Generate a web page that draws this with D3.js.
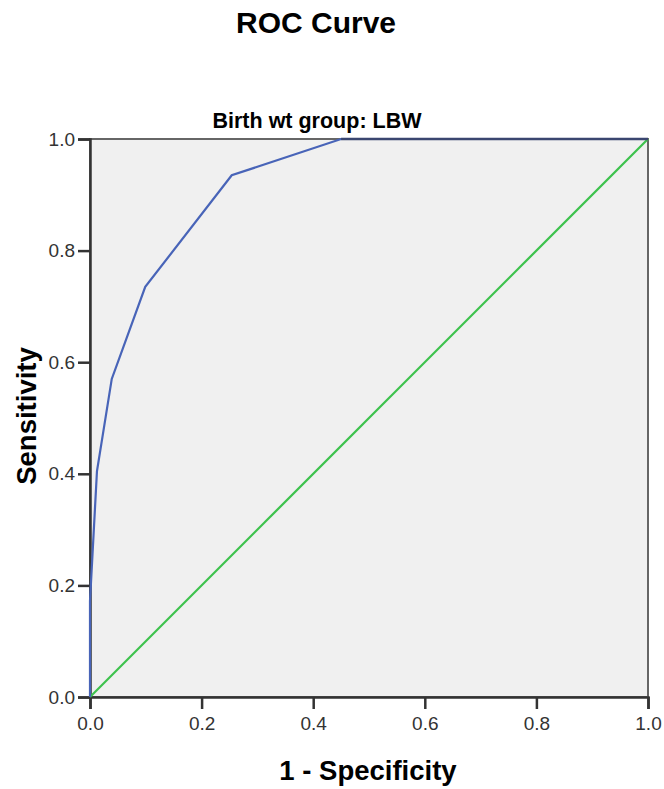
<!DOCTYPE html>
<html>
<head>
<meta charset="utf-8">
<script src="https://cdnjs.cloudflare.com/ajax/libs/d3/7.8.5/d3.min.js"></script>
<style>
body { margin: 0; background: #fff; }
text { font-family: Arial, "Liberation Sans", sans-serif; }
</style>
</head>
<body>
<div class="graph"></div>
<script>
// ROC points (1 - specificity, sensitivity)
var fpr = [0, 0, 0.0125, 0.039, 0.099, 0.254, 0.45, 1];
var tpr = [0, 0.172, 0.405, 0.57, 0.735, 0.935, 1, 1];
var refLine = [0, 1];
var tickValues = [0, 0.2, 0.4, 0.6, 0.8, 1];

var outer_width = 664, outer_height = 789;
var margin = {top: 139, right: 16, bottom: 92, left: 90};
var w = outer_width - margin.left - margin.right;
var h = outer_height - margin.top - margin.bottom;

var svg = d3.select(".graph").append("svg")
    .attr("width", outer_width)
    .attr("height", outer_height);

var g = svg.append("g")
    .attr("transform", "translate(" + margin.left + "," + margin.top + ")");

var xScale = d3.scaleLinear().domain([0, 1]).range([0, w]);
var yScale = d3.scaleLinear().domain([0, 1]).range([h, 0]);

// plot background
g.append("rect")
    .attr("width", w).attr("height", h)
    .attr("fill", "#f0f0f0")
    .attr("stroke", "#666")
    .attr("stroke-width", 2);

// axes
var xAxis = d3.axisBottom(xScale).tickValues(tickValues).tickFormat(d3.format(".1f")).tickSize(12).tickPadding(8);
var yAxis = d3.axisLeft(yScale).tickValues(tickValues).tickFormat(d3.format(".1f")).tickSize(12).tickPadding(3);

var gx = g.append("g").attr("transform", "translate(0," + h + ")").call(xAxis);
var gy = g.append("g").call(yAxis);
[gx, gy].forEach(function(a) {
    a.select(".domain").attr("stroke", "#333").attr("stroke-width", 2.5);
    a.selectAll(".tick line").attr("stroke", "#333").attr("stroke-width", 2.5);
    a.selectAll(".tick text").attr("fill", "#333").style("font-size", "19px");
});

// reference diagonal
var line = d3.line().x(function(d) { return xScale(d[0]); }).y(function(d) { return yScale(d[1]); });
g.append("path")
    .datum(refLine.map(function(v) { return [v, v]; }))
    .attr("d", line)
    .attr("fill", "none")
    .attr("stroke", "#3dc24d")
    .attr("stroke-width", 2.2);

// ROC curve
g.append("path")
    .datum(fpr.map(function(v, i) { return [v, tpr[i]]; }))
    .attr("d", line)
    .attr("fill", "none")
    .attr("stroke", "#4864b8")
    .attr("stroke-width", 2.2);

// top edge where the curve sits on the frame
g.append("line")
    .attr("x1", xScale(0.45)).attr("x2", w)
    .attr("y1", 0).attr("y2", 0)
    .attr("stroke", "#3a4670").attr("stroke-width", 2.5);

// titles
svg.append("text")
    .attr("x", 316).attr("y", 33)
    .attr("text-anchor", "middle")
    .style("font-size", "30px").style("font-weight", "bold")
    .text("ROC Curve");

svg.append("text")
    .attr("x", 317).attr("y", 128)
    .attr("text-anchor", "middle")
    .style("font-size", "21.5px").style("font-weight", "bold")
    .text("Birth wt group: LBW");

svg.append("text")
    .attr("x", 368).attr("y", 780)
    .attr("text-anchor", "middle")
    .style("font-size", "27.5px").style("font-weight", "bold")
    .text("1 - Specificity");

svg.append("text")
    .attr("transform", "translate(36,416) rotate(-90)")
    .attr("text-anchor", "middle")
    .style("font-size", "27.5px").style("font-weight", "bold")
    .text("Sensitivity");
</script>
</body>
</html>
